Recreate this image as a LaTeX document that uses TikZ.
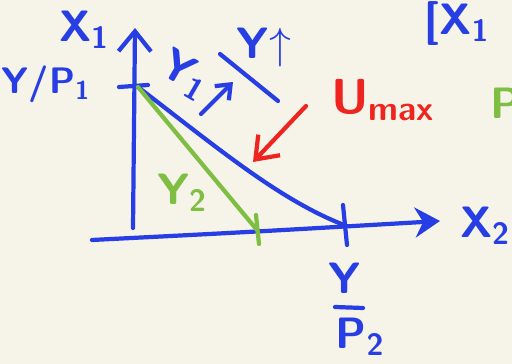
\documentclass[tikz,border=0pt]{standalone}
\usepackage{tikz}
\usetikzlibrary{arrows.meta,positioning}
\definecolor{penblue}{RGB}{38,62,228}
\definecolor{penred}{RGB}{238,36,30}
\definecolor{pengreen}{RGB}{126,190,66}
\definecolor{paper}{RGB}{246,243,233}

\begin{document}
\begin{tikzpicture}[x=0.02cm,y=-0.02cm,line cap=round,line join=round,
  ink/.style={line width=2.4pt},
  lbl/.style={inner sep=0pt,font=\sffamily\bfseries\fontsize{25}{28}\selectfont}]
\fill[paper] (0,0) rectangle (512,364);
\useasboundingbox (0,0) rectangle (512,364);
\clip (0,0) rectangle (512,364);
% axes
\coordinate (yb) at (133,228);
\coordinate (yt) at (135,28);
\coordinate (xb) at (92,240);
\coordinate (xt) at (440,221);
\draw[ink,penblue,-{Straight Barb[length=4mm,width=6.5mm,line width=2.4pt]}] (yb)--(yt);
\draw[ink,penblue,-{Stealth[length=5mm,width=6mm]}] (xb) .. controls (250,232) .. (xt);
\node[lbl,penblue] (x1) at (84,30) {X\textsubscript{1}};
\node[lbl,penblue] (x2) at (485,226) {X\textsubscript{2}};
% intercepts
\coordinate (p1) at (138,87);
\coordinate (q2) at (344,225);
\coordinate (g2) at (257,230);
\draw[ink,penblue] (119,87)--(148,85);
\draw[ink,penblue] (343,205)--(347,245);
\node[lbl,penblue,font=\sffamily\bfseries\fontsize{21}{24}\selectfont] (yp1) at (46,84) {Y/P\textsubscript{1}};
\node[lbl,penblue] (yy) at (345,278) {Y};
\coordinate (fa) at (335,307);
\coordinate (fb) at (363,308);
\draw[ink,penblue] (fa)--(fb);
\node[lbl,penblue] (pp2) at (360,337) {P\textsubscript{2}};
% budget lines
\draw[ink,penblue] (p1) .. controls (220,150) and (280,200) .. (q2);
\draw[ink,pengreen] (p1)--(g2);
\draw[ink,pengreen] (256,215)--(259,244);
\node[lbl,pengreen] (y2) at (182,193) {Y\textsubscript{2}};
% shift notes
\node[lbl,penblue,rotate=-30] (y1) at (185,75) {Y\textsubscript{1}};
\coordinate (a0) at (201,114);
\coordinate (a1) at (233,82);
\draw[ink,penblue,-{Straight Barb[length=2.5mm,width=4mm,line width=2.4pt]}] (a0)--(a1);
\coordinate (l0) at (220,54);
\coordinate (l1) at (278,101);
\draw[ink,penblue] (l0)--(l1);
\node[lbl,penblue] (yup) at (264,48) {Y$\uparrow$};
% utility
\node[lbl,penred,font=\sffamily\bfseries\fontsize{28}{30}\selectfont] (umax) at (383,100) {U\textsubscript{max}};
\coordinate (r0) at (306,106);
\coordinate (r1) at (253,162);
\draw[ink,penred,-{Straight Barb[length=4mm,width=6mm,line width=2.4pt]}] (r0)--(r1);
% right margin
\node[lbl,penblue,anchor=west] (br) at (424,24) {[X\textsubscript{1}};
\node[lbl,pengreen,anchor=west] (pg) at (490,103) {P};
\end{tikzpicture}
\end{document}
